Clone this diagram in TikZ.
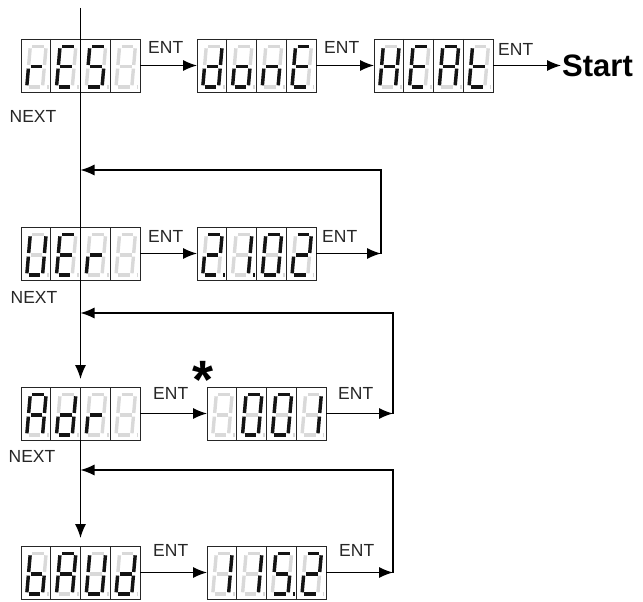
\documentclass[tikz,border=0pt]{standalone}
\usepackage{fontspec}
\setmainfont{Liberation Sans}
\usetikzlibrary{arrows.meta,positioning,calc}
\definecolor{segdark}{HTML}{141414}
\definecolor{seglight}{HTML}{D9D9D9}

% one 7-segment cell: x, y (top left), lit segments
\newcommand{\segcell}[3]{%
  \begin{scope}[shift={(#1,#2)}]
    \begin{scope}[shift={(9.3,7.5)}, x=15.8pt, y=-20.3pt, xslant=0.0875]
      \coordinate (a1) at (0.13,0);  \coordinate (a2) at (0.87,0);
      \coordinate (b1) at (1,0.09);  \coordinate (b2) at (1,0.91);
      \coordinate (c1) at (1,1.09);  \coordinate (c2) at (1,1.91);
      \coordinate (d1) at (0.13,2);  \coordinate (d2) at (0.87,2);
      \coordinate (e1) at (0,1.09);  \coordinate (e2) at (0,1.91);
      \coordinate (f1) at (0,0.09);  \coordinate (f2) at (0,0.91);
      \coordinate (g1) at (0.13,1);  \coordinate (g2) at (0.87,1);
      \coordinate (p1) at (1.3,2);   \coordinate (p2) at (1.42,2);
      \foreach \s in {a,b,c,d,e,f,g,p} {\draw[segoff] (\s1) -- (\s2);}
      \if\relax\detokenize{#3}\relax\else
        \foreach \s in {#3} {\draw[segon] (\s1) -- (\s2);}
      \fi
    \end{scope}
  \end{scope}}

% four-digit display: name, x, y, four cells
\newcommand{\dispfour}[7]{%
  \node[disp, anchor=north west] (#1) at (#2,#3) {};
  \segcell{#2}{#3}{#4}
  \segcell{#2+29.75}{#3}{#5}
  \segcell{#2+59.5}{#3}{#6}
  \segcell{#2+89.25}{#3}{#7}
  \foreach \k in {1,2,3} {\draw[frame] (#2+\k*29.75,#3) -- ++(0,53);}
}

\begin{document}
\begin{tikzpicture}[x=1pt, y=-1pt,
  disp/.style={rectangle, draw=black!85, line width=0.9pt, minimum width=119pt, minimum height=53pt, inner sep=0pt, outer sep=0pt},
  frame/.style={draw=black!85, line width=0.9pt},
  segoff/.style={draw=seglight, line width=3.4pt},
  segon/.style={draw=segdark, line width=3.4pt},
  arr/.style={-{Latex[length=14pt,width=11pt]}, line width=1.2pt},
  entlbl/.style={font=\fontsize{17.5}{17.5}\selectfont, text=black!85, inner sep=0pt},
  nextlbl/.style={font=\fontsize{17.5}{17.5}\selectfont, text=black!85, inner sep=0pt},
  startlbl/.style={font=\fontsize{31}{31}\selectfont\bfseries, inner sep=1pt}
]
  \path[fill=white, use as bounding box] (0,0) rectangle (643,602);

  % displays
  \dispfour{res}{21}{39}{e,g}{a,d,e,f,g}{a,c,d,f,g}{}
  \dispfour{done}{197}{39}{b,c,d,e,g}{c,d,e,g}{c,e,g}{a,d,e,f,g}
  \dispfour{heat}{374}{39}{b,c,e,f,g}{a,d,e,f,g}{a,b,c,e,f,g}{d,e,f,g}
  \dispfour{ver}{21}{227}{b,c,d,e,f}{a,d,e,f,g}{e,g}{}
  \dispfour{vnum}{197}{227}{a,b,d,e,g,p}{b,c,p}{a,b,c,d,e,f}{a,b,d,e,g}
  \dispfour{adr}{21}{387}{a,b,c,e,f,g}{b,c,d,e,g}{e,g}{}
  \dispfour{adrv}{207}{387}{}{a,b,c,d,e,f}{a,b,c,d,e,f}{b,c}
  \dispfour{baud}{21}{546}{c,d,e,f,g}{a,b,c,e,f,g}{b,c,d,e,f}{b,c,d,e,g}
  \dispfour{baudv}{207}{546}{b,c}{b,c}{a,c,d,f,g,p}{a,b,d,e,g}

  \node[startlbl, anchor=west] (start) at (561,65.5) {Start};
  \node[font=\fontsize{54}{54}\selectfont\bfseries, anchor=base, inner sep=0pt] (star) at (203,398) {*};

  % labels
  \node[nextlbl] (next1) at (33,116) {NEXT};
  \node[nextlbl] (next2) at (34,297) {NEXT};
  \node[nextlbl] (next3) at (32,456) {NEXT};
  \node[entlbl, above right=12pt and 8pt of res.east] (ent1) {ENT};
  \node[entlbl, above right=12pt and 8pt of done.east] (ent2) {ENT};
  \node[entlbl, above right=10pt and 5pt of heat.east] (ent3) {ENT};
  \node[entlbl, above right=11pt and 8pt of ver.east] (ent4) {ENT};
  \node[entlbl, above right=11pt and 6pt of vnum.east] (ent5) {ENT};
  \node[entlbl, above right=14pt and 13pt of adr.east] (ent6) {ENT};
  \node[entlbl, above right=14pt and 12pt of adrv.east] (ent7) {ENT};
  \node[entlbl, above right=16pt and 13pt of baud.east] (ent8) {ENT};
  \node[entlbl, above right=16pt and 13pt of baudv.east] (ent9) {ENT};

  % return points
  \coordinate (top) at (80.5,8);
  \coordinate (retA) at (381,253.5);
  \coordinate (joinA) at (80.5,170);
  \coordinate (retB) at (393,413.5);
  \coordinate (joinB) at (80.5,313);
  \coordinate (retC) at (393,572.5);
  \coordinate (joinC) at (80.5,470);

  % ENT flow
  \draw[arr] (res) -- (done);
  \draw[arr] (done) -- (heat);
  \draw[arr] (heat.east) -- (start.west);
  \draw[arr] (ver) -- (vnum);
  \draw[arr] (adr) -- (adrv);
  \draw[arr] (baud) -- (baudv);

  % NEXT flow
  \draw[arr] (top) -- ([yshift=8pt]adr.north);
  \draw[arr] (adr.south) -- ([yshift=8pt]baud.north);

  % back to the menu
  \draw[arr] (vnum) -- (retA);
  \draw[arr] (retA) |- (joinA);
  \draw[arr] (adrv) -- (retB);
  \draw[arr] (retB) |- (joinB);
  \draw[arr] (baudv) -- (retC);
  \draw[arr] (retC) |- (joinC);
\end{tikzpicture}
\end{document}
